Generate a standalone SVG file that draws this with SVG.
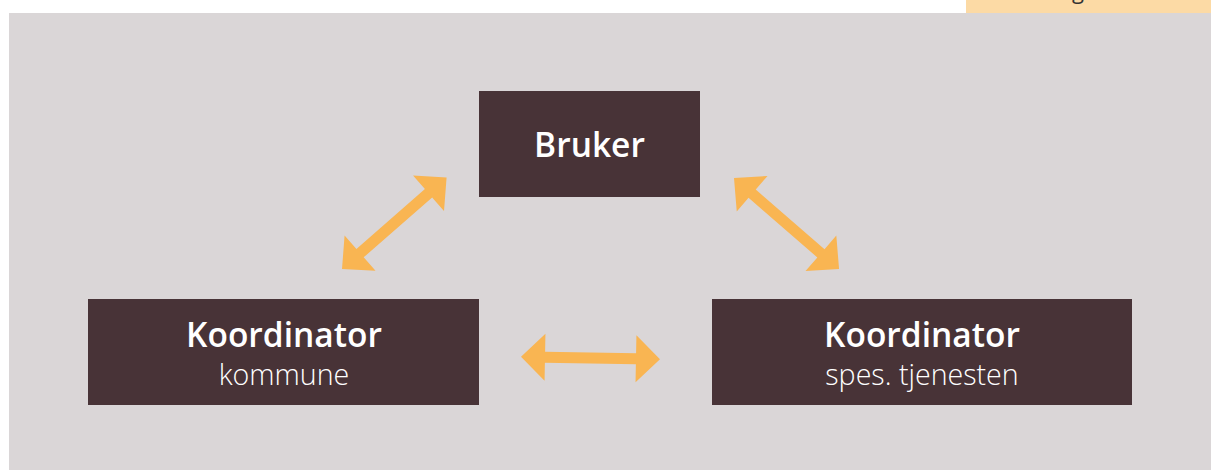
<svg xmlns="http://www.w3.org/2000/svg" xmlns:xlink="http://www.w3.org/1999/xlink" width="1211" height="470" viewBox="0 0 1211 470">
  <style>
    .box { fill: #483337; }
    .title { font-family: "Open Sans", "Liberation Sans", sans-serif; font-weight: 600; font-size: 33.5px; fill: #ffffff; text-anchor: middle; }
    .sub { font-family: "Open Sans", "Liberation Sans", sans-serif; font-weight: 300; font-size: 28.6px; fill: #ffffff; text-anchor: middle; }
    .arrow { fill: #F9B552; }
  </style>
  <defs>
    <path id="dbl" d="M0,0 L24,-23.5 L24,-5.5 L115,-5.5 L115,-23.5 L139,0 L115,23.5 L115,5.5 L24,5.5 L24,23.5 Z"/>
  </defs>
  <rect x="0" y="0" width="1211" height="470" fill="#ffffff"/>
  <rect x="9" y="13" width="1202" height="457" fill="#DAD6D7"/>
  <g id="tab">
    <rect x="966" y="0" width="245" height="13" fill="#FCDAA5"/>
    <text x="1078" y="-1" font-family="Open Sans, Liberation Sans, sans-serif" font-size="22" fill="#333333" text-anchor="middle">g</text>
  </g>
  <g id="connectors" class="arrow">
    <use xlink:href="#dbl" href="#dbl" transform="translate(342,269) rotate(-41.2)"/>
    <use xlink:href="#dbl" href="#dbl" transform="translate(734,178) rotate(40.9)"/>
    <use xlink:href="#dbl" href="#dbl" transform="translate(521,356.7) rotate(1.08)"/>
  </g>
  <g id="bruker">
    <rect class="box" x="479" y="91" width="221" height="106"/>
    <text class="title" x="589.5" y="157">Bruker</text>
  </g>
  <g id="koordinator-kommune">
    <rect class="box" x="88" y="299" width="391" height="106"/>
    <text class="title" x="284" y="347">Koordinator</text>
    <text class="sub" x="284" y="385">kommune</text>
  </g>
  <g id="koordinator-spes">
    <rect class="box" x="712" y="299" width="420" height="106"/>
    <text class="title" x="922" y="347">Koordinator</text>
    <text class="sub" x="922" y="385">spes. tjenesten</text>
  </g>
</svg>
